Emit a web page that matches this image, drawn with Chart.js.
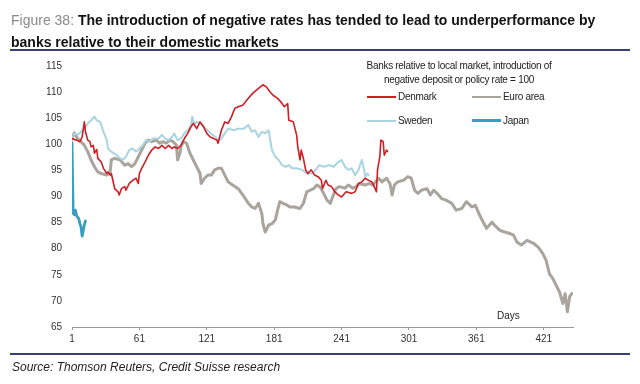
<!DOCTYPE html>
<html>
<head>
<meta charset="utf-8">
<script src="https://cdn.jsdelivr.net/npm/chart.js@4/dist/chart.umd.min.js"></script>
<style>
  html, body { margin: 0; padding: 0; background: #fff; }
  #wrap { position: relative; width: 640px; height: 384px; overflow: hidden; font-family: "Liberation Sans", Arial, sans-serif; }
  #c { position: absolute; left: 0; top: 0; }
  .title { position: absolute; left: 11px; top: 9px; font-size: 14px; line-height: 22px; font-weight: bold; color: #111; white-space: nowrap; letter-spacing: 0px; }
  .title .fig { color: #8a8a8a; font-weight: normal; }
  .rule { position: absolute; left: 10px; width: 620px; height: 2px; background: #3a3e6c; }
  .source { position: absolute; left: 12px; top: 360px; font-size: 12px; line-height: 14px; font-style: italic; color: #222; white-space: nowrap; }
  .lg { position: absolute; font-size: 10px; line-height: 12px; color: #222; white-space: nowrap; letter-spacing: -0.3px; }
  .lgh { left: 339px; width: 240px; text-align: center; }
  .sw { position: absolute; height: 2px; }
  .days { position: absolute; left: 497px; top: 310px; font-size: 10px; line-height: 12px; color: #222; }
</style>
</head>
<body>
<div id="wrap">
  <canvas id="c" width="640" height="384"></canvas>
  <div class="title"><span class="fig">Figure 38:</span> The introduction of negative rates has tended to lead to underperformance by<br>banks relative to their domestic markets</div>
  <div class="rule" style="top:49px"></div>
  <div class="lg lgh" style="top:60px">Banks relative to local market, introduction of</div>
  <div class="lg lgh" style="top:74px">negative deposit or policy rate = 100</div>
  <div class="sw" style="left:367px;top:96px;width:29px;background:#cf1f25"></div>
  <div class="lg" style="left:398px;top:91px">Denmark</div>
  <div class="sw" style="left:472px;top:96px;width:29px;background:#a9a49c"></div>
  <div class="lg" style="left:503px;top:91px">Euro area</div>
  <div class="sw" style="left:367px;top:120px;width:29px;background:#a9d4e1"></div>
  <div class="lg" style="left:398px;top:115px">Sweden</div>
  <div class="sw" style="left:472px;top:119px;width:29px;height:3px;background:#3b9dbf"></div>
  <div class="lg" style="left:503px;top:115px">Japan</div>
  <div class="days">Days</div>
  <div class="rule" style="top:353px"></div>
  <div class="source">Source: Thomson Reuters, Credit Suisse research</div>
</div>
<script>
const xTickLabels = [1, 61, 121, 181, 241, 301, 361, 421];
const yMin = 65, yMax = 115, yStep = 5;

const euroDays = [1,3,6,9,12,15,18,21,24,27,32,35,36,39,44,48,51,54,57,60,63,66,69,72,76,79,82,85,88,91,94,95,97,98,100,103,106,109,112,115,116,119,122,125,128,131,134,137,140,144,149,153,158,161,164,167,170,171,173,176,179,182,184,186,189,192,195,199,204,207,210,213,216,219,222,225,228,231,233,236,239,244,247,251,254,257,262,266,269,274,277,281,284,286,288,291,296,300,303,306,309,312,317,320,323,326,330,334,339,343,348,352,357,360,364,367,370,375,377,382,386,391,394,397,401,406,412,416,420,423,426,429,432,435,438,440,442,444,446];
const euroVals = [101.1,102.2,101.1,100.5,99.8,98.6,97,95.7,94.7,94.4,94.1,94.7,97,97.3,97,96,96.3,95.7,96.3,97.6,98.9,100.2,100.8,100.5,100.8,100.2,100.5,100.2,100.8,100.5,99.8,97,98.3,99.5,100.5,100.2,98.3,97,95.7,94.4,92.5,93.5,94.1,94.1,95.1,95.4,95.4,94.1,92.8,92.2,91.5,90.3,88.7,88,87.7,88.7,86.7,84.8,83.2,84.5,84.8,85.5,87.4,89,88.7,88.4,88,88,87.7,88.7,90.9,91.2,91.5,92.2,91.8,90.6,89.3,88.7,89.9,91.5,91.9,91.6,92.2,91.6,91.9,92.5,92.2,92.5,92.2,93.5,92.8,93.5,92.5,90.3,92.2,92.8,93.1,93.8,93.5,91.2,90.6,91.2,91.5,90.3,91.2,90.6,89.6,89.3,88.7,87.4,87.7,89,88,88.3,86.4,85.1,83.9,85.1,84.5,83.5,83.2,82.9,82.6,81.3,80.7,81.6,81,80.3,79.1,77.8,75.2,74.3,73,71.7,69.5,71.4,67.9,70.8,71.4];

const denDays = [1,5,8,10,12,13,15,17,18,20,21,23,24,27,29,32,33,35,36,38,39,42,43,45,48,49,52,55,58,60,61,63,66,69,72,75,78,81,84,87,90,92,95,98,101,104,107,109,112,115,118,121,124,127,130,131,134,137,140,143,146,149,153,158,162,167,171,174,177,180,184,187,190,193,194,198,201,202,204,205,207,209,211,214,217,220,223,224,227,229,232,235,238,241,245,250,253,256,259,262,265,268,270,272,273,275,276,278,279,281,282];
const denVals = [101.1,100.8,100.5,101.4,104.3,102.4,100.8,100.5,99.5,99.8,98.3,99,97.3,96.6,95.4,94.4,94.7,94.1,94.4,92.5,91.5,90.9,90.3,91.5,91.9,91.2,92.5,93.1,93.5,92.5,94.4,95.4,96.6,97.9,98.9,99.5,99.2,99.8,99.2,99.8,99.2,99.5,99.2,99.8,101.1,102.1,103.4,104,103,104.3,103.4,102.1,101.4,101.1,100.8,100.2,102.7,104.3,104,105.3,106.9,107.2,107.5,108.8,109.8,110.7,111.4,111,110.1,109.4,108.8,108.1,107.2,107.8,104.6,104.3,101.7,99.5,97,98.9,97.3,95.1,94.4,95.1,94.1,93.8,93.1,91.5,93.1,92.2,91.9,90.9,90.3,89.9,90.9,90.6,90.9,92.5,92.8,93.5,93.1,92.8,91.9,90.9,95.1,97.6,100.8,100.5,97.9,98.9,98.6];

const sweDays = [1,3,6,9,12,15,18,21,23,26,29,32,33,36,41,44,46,49,52,55,58,61,64,67,70,73,78,81,84,87,90,92,95,98,101,104,107,108,110,112,115,120,123,126,129,131,134,137,140,145,149,154,158,161,164,167,170,173,176,177,179,182,185,188,191,194,197,201,206,210,215,219,221,225,230,234,238,241,244,247,250,253,256,259,261,262,264,265];
const sweVals = [100.8,102.1,101.8,102.4,103,104,104.6,105.3,104.6,104.3,102.4,100.8,99.2,98.6,97.9,97.3,97,97.6,98.9,99.2,98.6,99.2,99.8,100.8,100.5,101.1,101.1,101.8,101.1,100.8,101.4,102.1,100.8,101.1,102.1,102.7,103.7,105.3,103.7,104.3,104,103,102.4,101.8,101.4,100.8,101.1,102.1,103,102.7,103,103,103.7,102.4,102.7,101.4,102.4,102.1,102.7,101.4,98.9,97.6,97,96,95.7,96,95.4,95.4,95.1,94.4,94.4,95.4,96,95.7,96,95.7,96.6,97,95.7,95.1,95.4,94.1,95.1,97,95.1,93.8,94.4,94.1];

const japDays = [1,2,3,4,5,6,7,8,9,10,11,12,13];
const japVals = [100.3,86.8,86.5,87.4,86.4,86,85.8,84.8,84.2,82.4,83.4,84.6,85.3];

function pts(d, v) { return d.map((x, i) => ({ x: x, y: v[i] })); }

new Chart(document.getElementById('c'), {
  type: 'line',
  data: {
    datasets: [
      { label: 'Japan', data: pts(japDays, japVals), borderColor: '#3b9dbf', borderWidth: 2.8, order: 1 },
      { label: 'Denmark', data: pts(denDays, denVals), borderColor: '#cf1f25', borderWidth: 1.6, order: 2 },
      { label: 'Sweden', data: pts(sweDays, sweVals), borderColor: '#a9d4e1', borderWidth: 2, order: 3 },
      { label: 'Euro area', data: pts(euroDays, euroVals), borderColor: '#a9a49c', borderWidth: 3, order: 4 }
    ]
  },
  options: {
    responsive: false,
    animation: false,
    devicePixelRatio: 1,
    parsing: false,
    elements: { point: { radius: 0 }, line: { tension: 0, borderJoinStyle: 'round', borderCapStyle: 'round' } },
    layout: { padding: { left: 0, right: 67, top: 66, bottom: 35 } },
    plugins: { legend: { display: false }, tooltip: { enabled: false }, title: { display: false } },
    scales: {
      x: {
        type: 'linear', min: 1, max: 447,
        afterBuildTicks: (s) => { s.ticks = xTickLabels.map(v => ({ value: v })); },
        afterFit: (s) => { s.height = 22; },
        grid: { display: true, drawOnChartArea: false, drawTicks: true, tickLength: 3, color: '#9a9a9a' },
        border: { display: true, color: '#9a9a9a', width: 1 },
        ticks: { color: '#333', font: { family: 'Liberation Sans', size: 10 }, padding: 3, maxRotation: 0, autoSkip: false }
      },
      y: {
        min: yMin, max: yMax,
        ticks: { stepSize: yStep, color: '#333', font: { family: 'Liberation Sans', size: 10 }, padding: 10 },
        afterFit: (s) => { s.width = 72; },
        grid: { display: false, drawTicks: false },
        border: { display: false }
      }
    }
  }
});
</script>
</body>
</html>
